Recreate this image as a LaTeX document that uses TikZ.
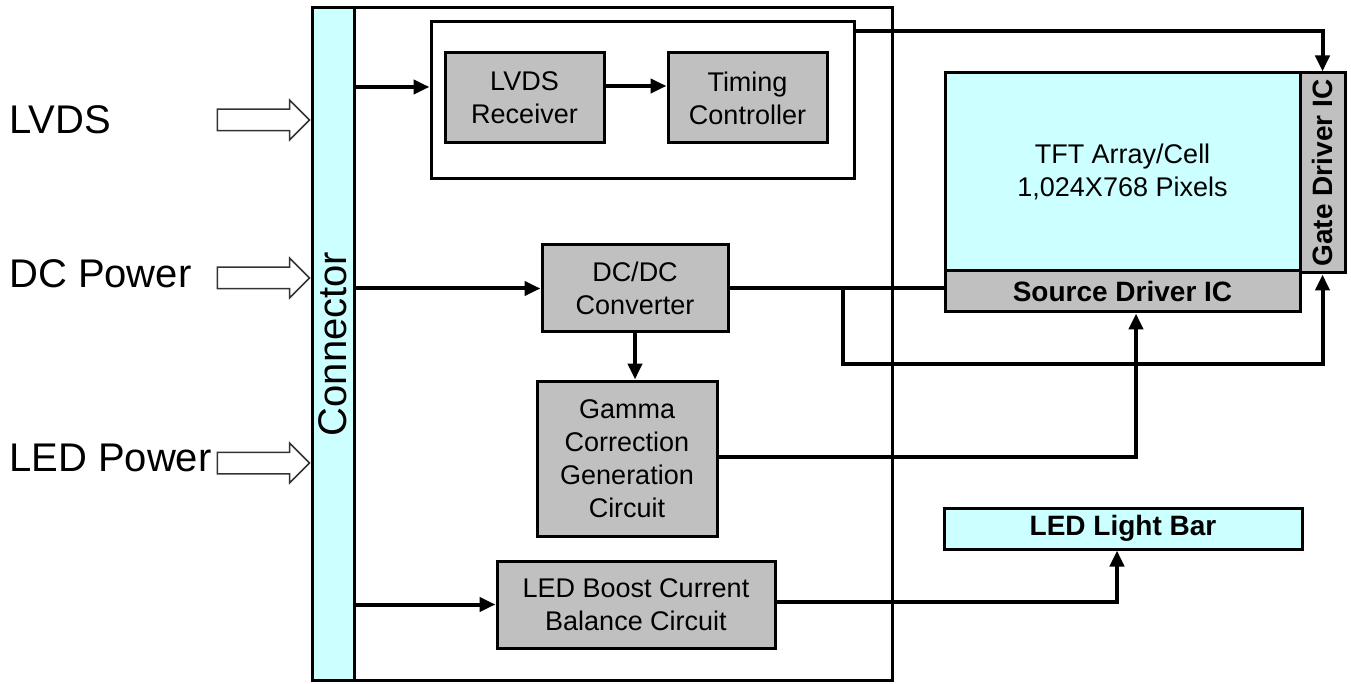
\documentclass[tikz,border=0pt]{standalone}
\usepackage{fontspec}
\setmainfont{Liberation Sans}
\usetikzlibrary{positioning,shapes,shapes.arrows,arrows.meta}
\definecolor{panelcyan}{HTML}{CCFFFF}
\definecolor{icgray}{HTML}{C0C0C0}
\tikzstyle{frm}=[draw, line width=3pt, inner sep=0pt]
\tikzstyle{int}=[draw, fill=icgray, line width=3pt, inner sep=0pt, align=center, font=\fontsize{27}{33}\selectfont]
\tikzstyle{lcd}=[draw, fill=panelcyan, line width=3pt, inner sep=0pt, align=center, font=\fontsize{27}{33}\selectfont]
\tikzstyle{drv}=[int, font=\fontsize{28}{32}\selectfont\bfseries]
\tikzstyle{lbl}=[font=\fontsize{40}{48}\selectfont, inner sep=0pt]
\tikzstyle{inarr}=[single arrow, draw=black!80, fill=white, line width=1.5pt, minimum height=92pt, minimum width=38pt, single arrow head extend=9pt, inner xsep=0pt, inner ysep=10pt, anchor=tip]
\tikzstyle{con}=[line width=4pt]

\begin{document}
\begin{tikzpicture}[x=1pt,y=-1pt,>={Triangle[length=16pt,width=14pt]}]
\useasboundingbox (0,0) rectangle (1351,684);

% board and connector
\node[frm, minimum width=580pt, minimum height=672pt] (board) at (602,344) {};
\node[lcd, rotate=90, minimum width=672pt, minimum height=42pt, font=\fontsize{40}{48}\selectfont] (conn) at (333,344) {Connector};

% inputs
\node[lbl, anchor=west] (lvds) at (9,120) {LVDS};
\node[lbl, anchor=west] (dcin) at (9,274) {DC Power};
\node[lbl, anchor=west] (ledin) at (9,458) {LED Power};
\node[inarr] (lvdsarr) at (conn.north |- 0,120) {};
\node[inarr] (dcarr) at (conn.north |- 0,278) {};
\node[inarr] (ledarr) at (conn.north |- 0,463) {};

% timing part
\node[frm, minimum width=423pt, minimum height=157pt] (tcbox) at (642.5,100.5) {};
\node[int, minimum width=159pt, minimum height=90pt] (lvdsrx) at (524.5,98) {LVDS\\Receiver};
\node[int, minimum width=159pt, minimum height=90pt, right of=lvdsrx, node distance=223pt] (tcon) {Timing\\Controller};

% power part
\node[int, minimum width=186pt, minimum height=87pt] (dcdc) at (635,288.5) {DC/DC\\Converter};
\node[int, minimum width=180pt, minimum height=155pt] (gamma) at (627,458.5) {Gamma\\Correction\\Generation\\Circuit};
\node[int, minimum width=278pt, minimum height=87pt] (boost) at (636,604.5) {LED Boost Current\\Balance Circuit};

% panel
\node[lcd, minimum width=355pt, minimum height=198pt] (tft) at (1122.5,172) {TFT Array/Cell\\1,024X768 Pixels};
\node[drv, minimum width=355pt, minimum height=41pt, below of=tft, node distance=119.5pt] (src) {Source Driver IC};
\node[drv, rotate=90, minimum width=200pt, minimum height=45pt] (gate) at (1322.5,173) {Gate Driver IC};
\node[lcd, minimum width=358pt, minimum height=41pt, font=\fontsize{28}{32}\selectfont\bfseries] (ledbar) at (1123,528.5) {LED Light Bar};

\coordinate (tcin) at ([yshift=13.5pt]tcbox.west);
\draw[con,->] (conn.south |- tcin) -- (tcin);
\draw[con,->] ([yshift=12pt]lvdsrx.east) -- ([yshift=12pt]tcon.west);
\draw[con,->] ([yshift=-11pt]tcbox.north east) -| (gate.east);

\draw[con,->] (conn.south |- dcdc.west) -- (dcdc.west);
\draw[con] (dcdc.east) -- (dcdc.east -| src.west);
\coordinate (split) at ([xshift=113pt]dcdc.east);
\draw[con,->] (split) -- ++(0,75) -| (gate.west);
\draw[con,->] (dcdc.south) -- (dcdc.south |- gamma.north);
\draw[con,->] ([yshift=2pt]gamma.east) -| ([xshift=13.5pt]src.south);

\draw[con,->] (conn.south |- boost.west) -- (boost.west);
\draw[con,->] ([yshift=2.5pt]boost.east) -| ([xshift=-6pt]ledbar.south);
\end{tikzpicture}
\end{document}
